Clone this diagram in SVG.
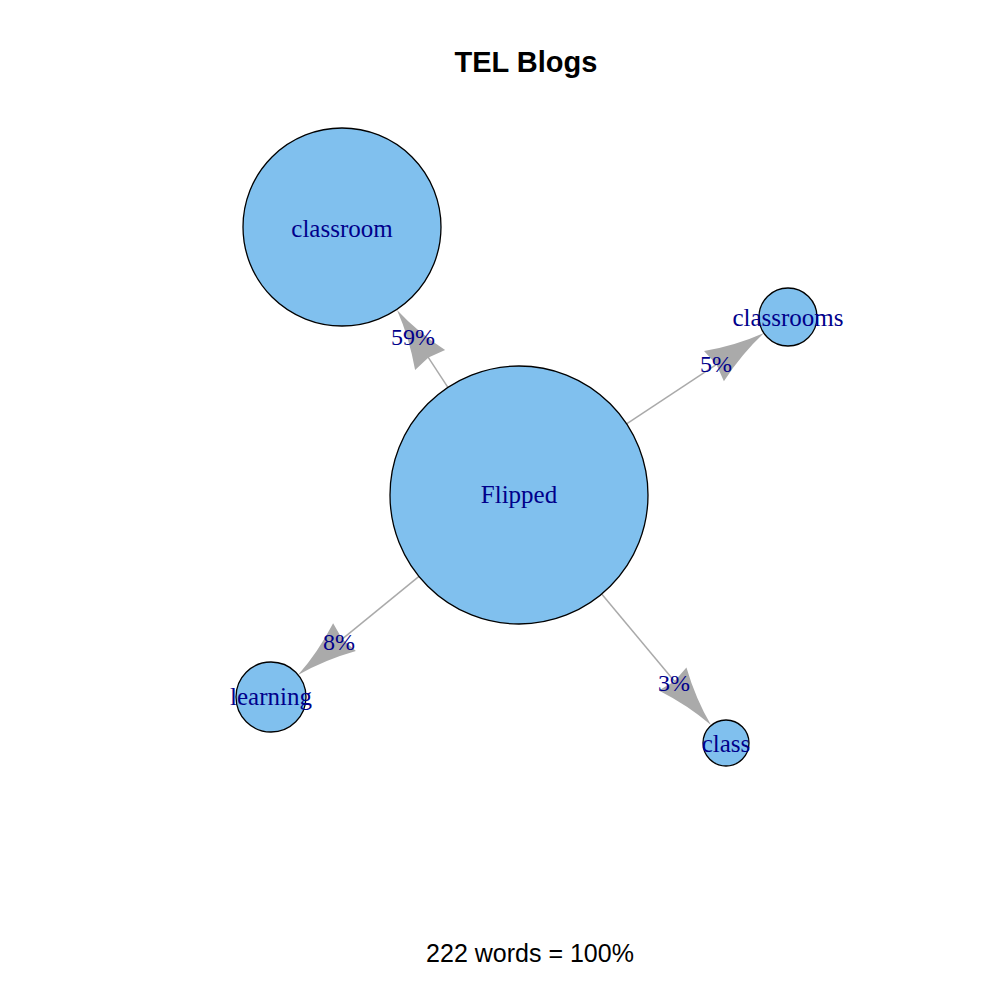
<svg xmlns="http://www.w3.org/2000/svg" width="1000" height="1000" viewBox="0 0 1000 1000">
<style>
.edge{stroke:#aaaaaa;stroke-width:1.5;fill:none}
.head{fill:#aaaaaa;stroke:none}
.node{fill:#80C0EE;stroke:#000;stroke-width:1.3}
.lbl{font-family:"Liberation Serif","Times New Roman",serif;font-size:25px;fill:#00008B;text-anchor:middle}
.elbl{font-family:"Liberation Serif","Times New Roman",serif;font-size:24px;fill:#00008B;text-anchor:middle}
.title{font-family:"Liberation Sans",Arial,sans-serif;font-size:29px;font-weight:bold;text-anchor:middle;fill:#000}
.foot{font-family:"Liberation Sans",Arial,sans-serif;font-size:25px;text-anchor:middle;fill:#000}
</style>
<defs>
<path id="ah" d="M0,0 Q-30,-5 -60,-18 L-57,0 L-60,18 Q-30,5 0,0 Z"/>
</defs>
<rect width="1000" height="1000" fill="#fff"/>
<text class="title" x="526" y="72">TEL Blogs</text>
<g id="connectors">
<line class="edge" x1="447.9" y1="387.4" x2="427.3" y2="355.9"/>
<use href="#ah" class="head" transform="translate(397,310) rotate(-123.5)"/>
<line class="edge" x1="626.6" y1="423.8" x2="718.1" y2="363.4"/>
<use href="#ah" class="head" transform="translate(764,333) rotate(-33.5)"/>
<line class="edge" x1="419" y1="576.4" x2="340.6" y2="640.3"/>
<use href="#ah" class="head" transform="translate(298,675) rotate(140.8)"/>
<line class="edge" x1="601.7" y1="594" x2="675.7" y2="682.8"/>
<use href="#ah" class="head" transform="translate(711,725) rotate(50.2)"/>
</g>
<g id="node-flipped"><circle class="node" cx="519" cy="495" r="129"/><text class="lbl" x="519" y="503">Flipped</text></g>
<g id="node-classroom"><circle class="node" cx="342" cy="227" r="99"/><text class="lbl" x="342" y="237">classroom</text></g>
<g id="node-classrooms"><circle class="node" cx="788" cy="317" r="29"/><text class="lbl" x="788" y="326">classrooms</text></g>
<g id="node-learning"><circle class="node" cx="271" cy="697" r="35"/><text class="lbl" x="271" y="705">learning</text></g>
<g id="node-class"><circle class="node" cx="726" cy="743" r="23"/><text class="lbl" x="726" y="752">class</text></g>
<g id="edge-labels">
<text class="elbl" x="413" y="345">59%</text>
<text class="elbl" x="716" y="372">5%</text>
<text class="elbl" x="339" y="650">8%</text>
<text class="elbl" x="674" y="691">3%</text>
</g>
<text class="foot" x="530" y="962">222 words = 100%</text>
</svg>
